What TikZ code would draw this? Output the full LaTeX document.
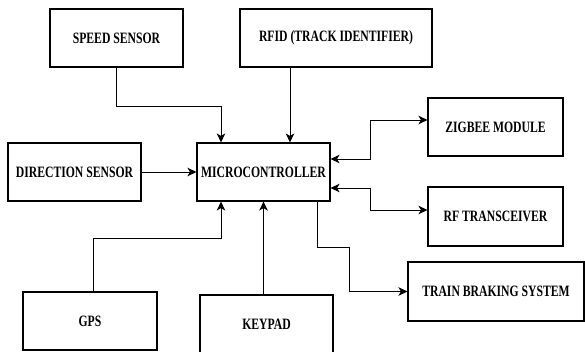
\documentclass[tikz,border=0pt]{standalone}
\usepackage{fontspec}
\setmainfont{Liberation Serif}[FakeStretch=0.74]
\usetikzlibrary{arrows.meta}

\tikzset{
    bloque/.style={draw, line width=1.1pt, minimum height=58pt, inner sep=0pt,
        font=\fontsize{15.8}{18}\selectfont\bfseries},
    flecha/.style={line width=0.9pt, -{Stealth[length=9pt, width=8.5pt, inset=2.5pt]}},
    doble/.style={line width=0.9pt, {Stealth[length=9pt, width=8.5pt, inset=2.5pt]}-{Stealth[length=9pt, width=8.5pt, inset=2.5pt]}}
}

\begin{document}
\begin{tikzpicture}[x=1pt, y=1pt]
    \useasboundingbox (0,0) rectangle (585,351);

    % -----------------------------------------------------
    % 1) Bloques de entrada
    % -----------------------------------------------------
    \node[bloque, minimum width=133pt] (speed) at (116.5,313) {SPEED SENSOR};
    \node[bloque, minimum width=192pt] (rfid) at (336,313) {RFID (TRACK IDENTIFIER)};
    \node[bloque, minimum width=133pt] (dir) at (74.5,179) {DIRECTION SENSOR};
    \node[bloque, minimum width=134pt] (gps) at (90,30) {GPS};
    \node[bloque, minimum width=133pt] (keypad) at (266.5,27) {KEYPAD};

    % -----------------------------------------------------
    % 2) Microcontrolador
    % -----------------------------------------------------
    \node[bloque, minimum width=133pt] (micro) at (263.5,179) {MICROCONTROLLER};

    % -----------------------------------------------------
    % 3) Bloques de salida / comunicacion
    % -----------------------------------------------------
    \node[bloque, minimum width=135pt] (zigbee) at (495.5,224) {ZIGBEE MODULE};
    \node[bloque, minimum width=135pt, minimum height=59pt] (rf) at (495.5,134.5) {RF TRANSCEIVER};
    \node[bloque, minimum width=176pt, minimum height=59pt] (train) at (496,59.5) {TRAIN BRAKING SYSTEM};

    % -----------------------------------------------------
    % 4) Conexiones
    % -----------------------------------------------------
    \draw[flecha] (speed.south) -- ++(0,-39) -| ([xshift=-42.5pt]micro.north);
    \draw[flecha] ([xshift=26.5pt]micro.north |- rfid.south) -- ([xshift=26.5pt]micro.north);
    \draw[flecha] (dir.east) -- (micro.west);
    \draw[flecha] ([xshift=3pt]gps.north) -- ++(0,53) -| ([xshift=-42.5pt]micro.south);
    \draw[flecha] (micro.south |- keypad.north) -- (micro.south);

    % bidireccionales
    \draw[doble] ([yshift=13pt]micro.east) -- ++(40,0) |- ([yshift=7pt]zigbee.west);
    \draw[doble] ([yshift=-16pt]micro.east) -- ++(40,0) |- ([yshift=6.5pt]rf.west);

    % salida al sistema de frenado
    \draw[flecha] ([xshift=53.5pt]micro.south) -- ++(0,-46) -- ++(32,0) |- (train.west);

\end{tikzpicture}
\end{document}
